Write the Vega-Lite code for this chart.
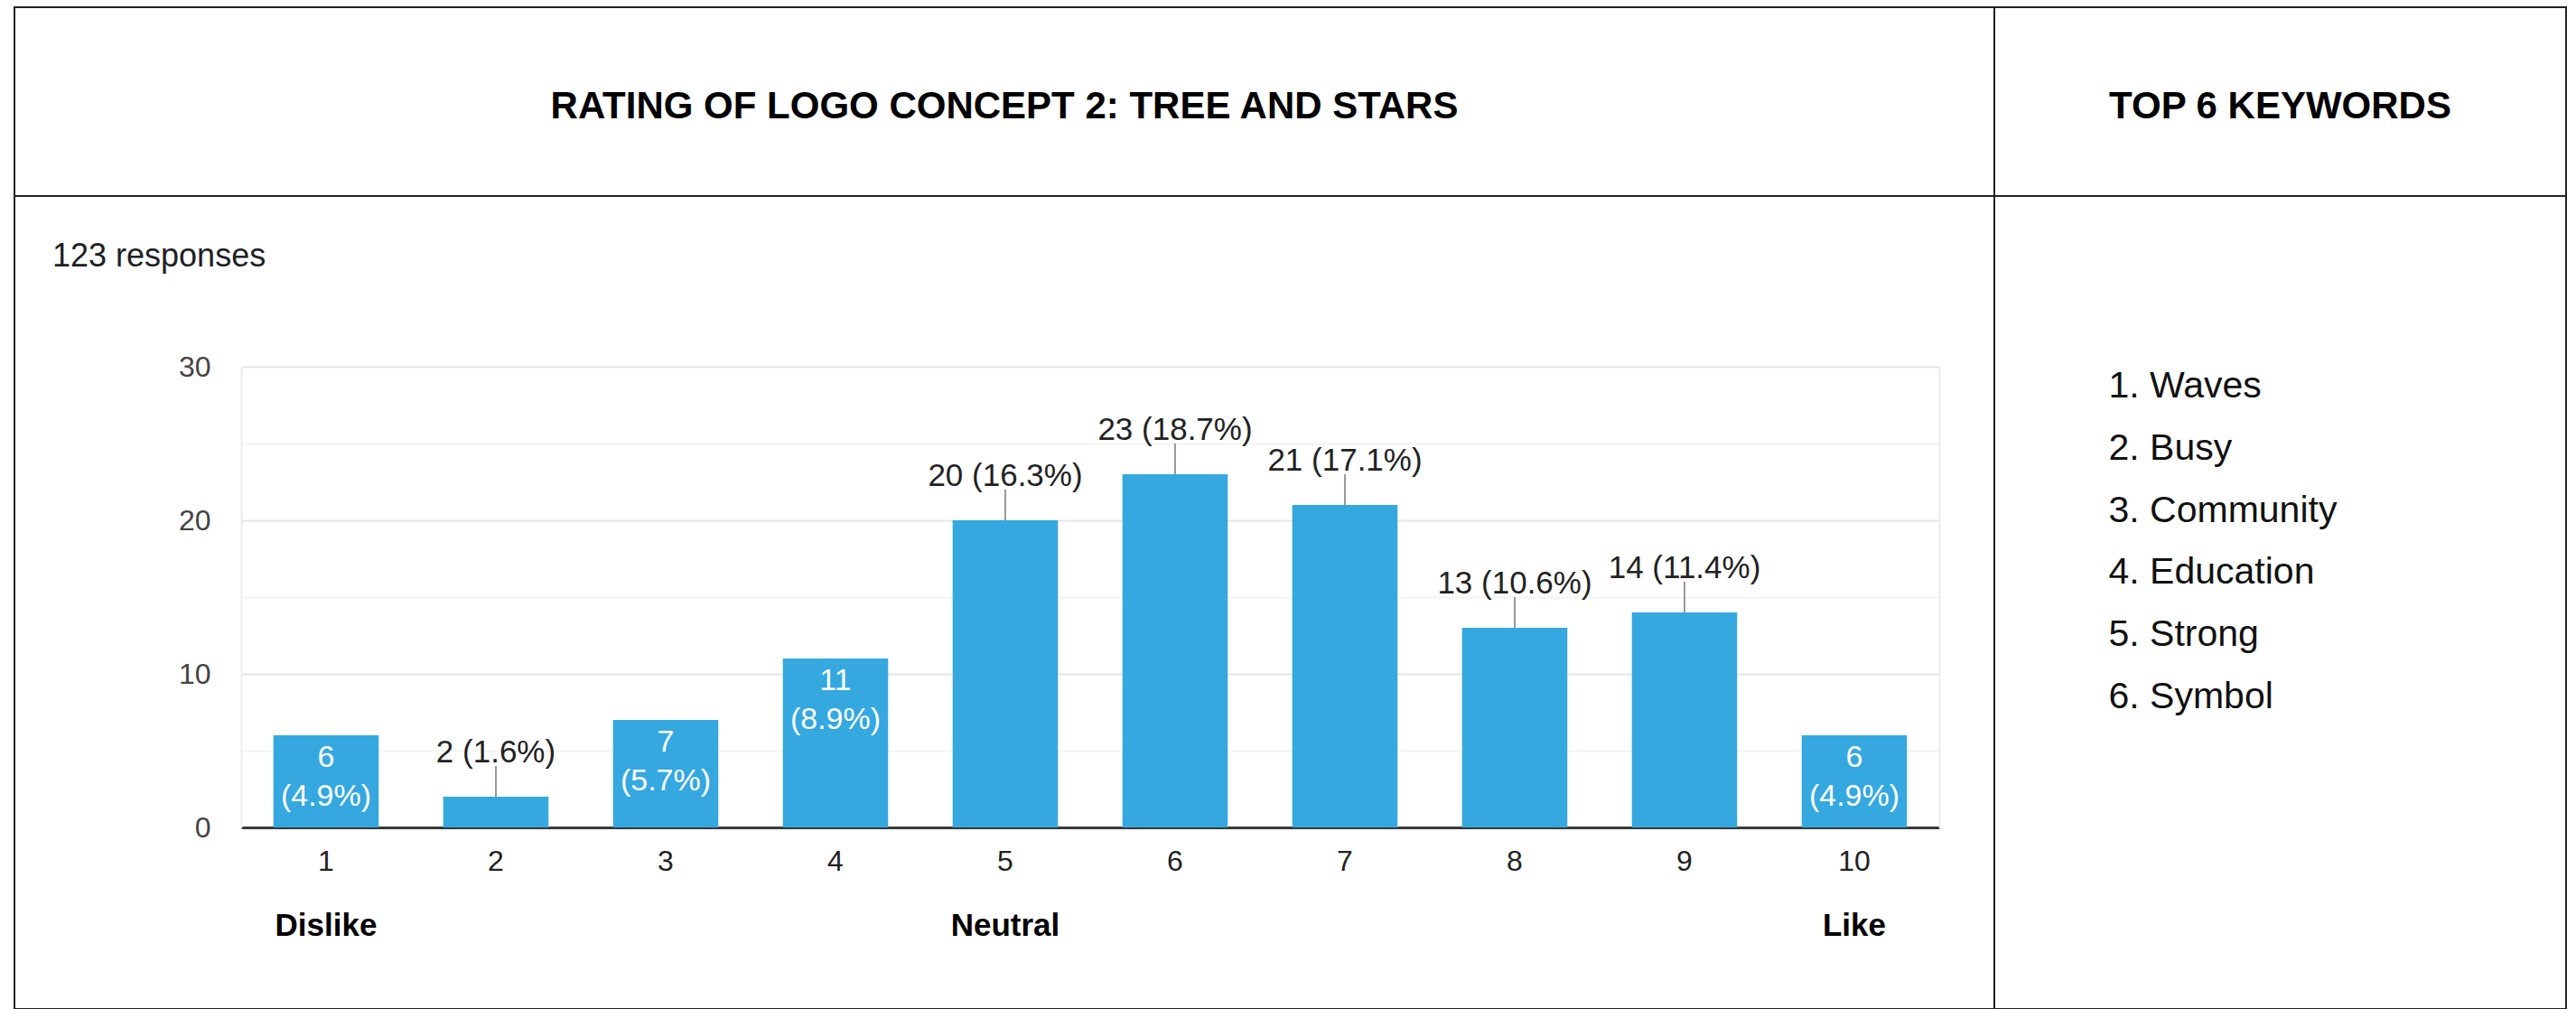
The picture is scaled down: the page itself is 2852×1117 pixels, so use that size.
{
  "$schema": "https://vega.github.io/schema/vega-lite/v6.json",
  "padding": {"left": 15, "top": 7, "right": 0, "bottom": 0},
  "background": "white",
  "datasets": {
    "ratings": [
      {"rating": 1, "count": 6, "label": "6\n(4.9%)", "pos": "in"},
      {"rating": 2, "count": 2, "label": "2 (1.6%)", "pos": "out"},
      {"rating": 3, "count": 7, "label": "7\n(5.7%)", "pos": "in"},
      {"rating": 4, "count": 11, "label": "11\n(8.9%)", "pos": "in"},
      {"rating": 5, "count": 20, "label": "20 (16.3%)", "pos": "out"},
      {"rating": 6, "count": 23, "label": "23 (18.7%)", "pos": "out"},
      {"rating": 7, "count": 21, "label": "21 (17.1%)", "pos": "out"},
      {"rating": 8, "count": 13, "label": "13 (10.6%)", "pos": "out"},
      {"rating": 9, "count": 14, "label": "14 (11.4%)", "pos": "out"},
      {"rating": 10, "count": 6, "label": "6\n(4.9%)", "pos": "in"}
    ],
    "keywords": [
      {"rank": 1, "text": "1. Waves"},
      {"rank": 2, "text": "2. Busy"},
      {"rank": 3, "text": "3. Community"},
      {"rank": 4, "text": "4. Education"},
      {"rank": 5, "text": "5. Strong"},
      {"rank": 6, "text": "6. Symbol"}
    ]
  },
  "columns": 2,
  "spacing": 0,
  "bounds": "flush",
  "concat": [
    {
      "width": 2192,
      "height": 209,
      "data": {"values": [{"t": "RATING OF LOGO CONCEPT 2: TREE AND STARS"}]},
      "mark": {"type": "text", "fontSize": 42, "fontWeight": "bold", "color": "#000000", "baseline": "middle", "align": "center", "dy": 5},
      "encoding": {
        "x": {"field": "t", "type": "nominal", "axis": null},
        "y": {"field": "t", "type": "nominal", "axis": null},
        "text": {"field": "t"}
      }
    },
    {
      "width": 633,
      "height": 209,
      "data": {"values": [{"t": "TOP 6 KEYWORDS"}]},
      "mark": {"type": "text", "fontSize": 42, "fontWeight": "bold", "color": "#000000", "baseline": "middle", "align": "center", "dy": 5},
      "encoding": {
        "x": {"field": "t", "type": "nominal", "axis": null},
        "y": {"field": "t", "type": "nominal", "axis": null},
        "text": {"field": "t"}
      }
    },
    {
      "width": 2192,
      "height": 900,
      "title": {"text": "123 responses", "anchor": "start", "frame": "group", "orient": "top", "offset": -66, "dx": 42, "dy": 37, "baseline": "middle", "fontSize": 36, "fontWeight": "normal", "color": "#202124"},
      "data": {"name": "ratings"},
      "layer": [
        {
          "mark": {"type": "bar", "color": "#34A8DF"},
          "encoding": {
            "x": {"field": "rating", "type": "ordinal", "scale": {"range": [251, 2131], "paddingInner": 0.38, "paddingOuter": 0.19},
              "axis": {"orient": "bottom", "offset": -201, "ticks": false, "tickSize": 0, "labelPadding": 37, "labelBaseline": "middle", "labelFontSize": 32, "labelColor": "#222222", "labelAngle": 0, "domainColor": "#3a3a3a", "domainWidth": 3, "grid": false, "title": null}},
            "y": {"field": "count", "type": "quantitative", "scale": {"domain": [0, 30], "range": [699, 189], "nice": false},
              "axis": {"orient": "left", "offset": -251, "values": [0, 5, 10, 15, 20, 25, 30], "labelExpr": "datum.value % 10 === 0 ? datum.label : ''", "ticks": false, "tickSize": 0, "labelPadding": 34, "labelFontSize": 32, "labelColor": "#444444", "labelBaseline": "middle", "domainColor": "#ececec", "domainWidth": 2, "grid": true, "gridColor": {"condition": {"test": "datum.value % 10 === 0", "value": "#e6e6e6"}, "value": "#f3f3f3"}, "gridWidth": 2, "title": null}}
          }
        },
        {
          "transform": [{"filter": "datum.pos == 'out'"}],
          "mark": {"type": "rule", "y2Offset": -34, "color": "#9a9a9a", "strokeWidth": 2},
          "encoding": {
            "x": {"field": "rating", "type": "ordinal", "scale": {"range": [251, 2131], "paddingInner": 0.38, "paddingOuter": 0.19},
              "axis": {"orient": "bottom", "offset": -201, "ticks": false, "tickSize": 0, "labelPadding": 108, "labelBaseline": "middle", "labelFontSize": 35, "labelFontWeight": "bold", "labelColor": "#000000", "labelAngle": 0, "labelExpr": "datum.value == 1 ? 'Dislike' : datum.value == 5 ? 'Neutral' : datum.value == 10 ? 'Like' : ''", "domain": false, "grid": false, "title": null}},
            "y": {"field": "count", "type": "quantitative", "scale": {"domain": [0, 30], "range": [699, 189], "nice": false},
              "axis": {"orient": "right", "offset": -61, "labels": false, "ticks": false, "grid": false, "domainColor": "#ececec", "domainWidth": 2, "title": null}},
            "y2": {"field": "count"}
          }
        },
        {
          "transform": [{"filter": "datum.pos == 'out'"}],
          "mark": {"type": "text", "fontSize": 35, "color": "#222222", "baseline": "middle", "align": "center", "dy": -49},
          "encoding": {
            "x": {"field": "rating", "type": "ordinal", "scale": {"range": [251, 2131], "paddingInner": 0.38, "paddingOuter": 0.19}, "axis": null},
            "y": {"field": "count", "type": "quantitative", "scale": {"domain": [0, 30], "range": [699, 189], "nice": false}, "axis": null},
            "text": {"field": "label"}
          }
        },
        {
          "transform": [{"filter": "datum.pos == 'in'"}],
          "mark": {"type": "text", "fontSize": 34, "color": "#ffffff", "baseline": "top", "align": "center", "dy": 8, "lineBreak": "\n", "lineHeight": 43},
          "encoding": {
            "x": {"field": "rating", "type": "ordinal", "scale": {"range": [251, 2131], "paddingInner": 0.38, "paddingOuter": 0.19}, "axis": null},
            "y": {"field": "count", "type": "quantitative", "scale": {"domain": [0, 30], "range": [699, 189], "nice": false}, "axis": null},
            "text": {"field": "label"}
          }
        }
      ],
      "resolve": {"axis": {"x": "independent", "y": "independent"}}
    },
    {
      "width": 633,
      "height": 900,
      "data": {"name": "keywords"},
      "mark": {"type": "text", "fontSize": 41, "color": "#111111", "baseline": "middle", "align": "left", "dx": -190},
      "encoding": {
        "y": {"field": "rank", "type": "ordinal", "scale": {"type": "point", "range": [211, 555], "padding": 0}, "axis": null},
        "text": {"field": "text"}
      }
    }
  ],
  "config": {
    "font": "Liberation Sans",
    "view": {"stroke": "#222222", "strokeWidth": 2},
    "axis": {"labelFont": "Liberation Sans"}
  }
}
